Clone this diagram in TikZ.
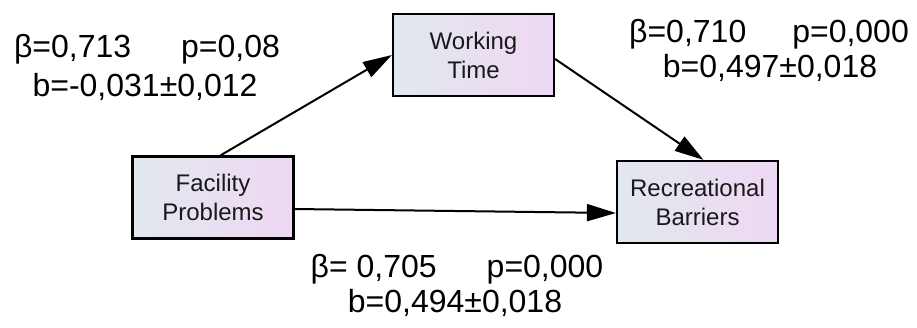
\documentclass[tikz,border=0pt]{standalone}
\usepackage{fontspec}
\setmainfont{Liberation Sans}
\usetikzlibrary{arrows.meta,calc}
\tikzset{
  varbox/.style={draw=black, line width=2.2pt, left color=boxl, right color=boxr,
    minimum width=161pt, minimum height=82pt, align=center, inner sep=0pt,
    font=\fontsize{24}{29}\selectfont, text=black!90},
  lbl/.style={anchor=base, inner sep=0pt, font=\fontsize{32}{38}\selectfont},
  conn/.style={line width=2pt, -{Triangle[length=29pt,width=17pt]}}
}
\definecolor{boxl}{HTML}{E2E8EE}
\definecolor{boxr}{HTML}{EED8F3}
\begin{document}
\begin{tikzpicture}[x=1pt,y=-1pt]
\useasboundingbox (0,0) rectangle (917,327);
\node[varbox] (fp) at (213,197.5) {Facility\\Problems};
\node[varbox] (wt) at (473.5,55) {Working\\Time};
\node[varbox] (rt) at (697.5,202) {Recreational\\Barriers};
\draw[conn] (fp.80) -- (wt.west);
\draw[conn] ($(wt.east)+(0,4)$) -- ($(rt.north)+(6,0)$);
\draw[conn] ($(fp.east)+(0,11.5)$) -- ($(rt.west)+(0,11)$);
\node[lbl] (l1a) at (147,57) {β=0,713\hspace{50pt}p=0,08};
\node[lbl] (l1b) at (145,96) {b=-0,031±0,012};
\node[lbl] (l2a) at (769,42) {β=0,710\hspace{46pt}p=0,000};
\node[lbl] (l2b) at (770,77) {b=0,497±0,018};
\node[lbl] (l3a) at (457,277) {β= 0,705\hspace{50pt}p=0,000};
\node[lbl] (l3b) at (455,312) {b=0,494±0,018};
\end{tikzpicture}
\end{document}
